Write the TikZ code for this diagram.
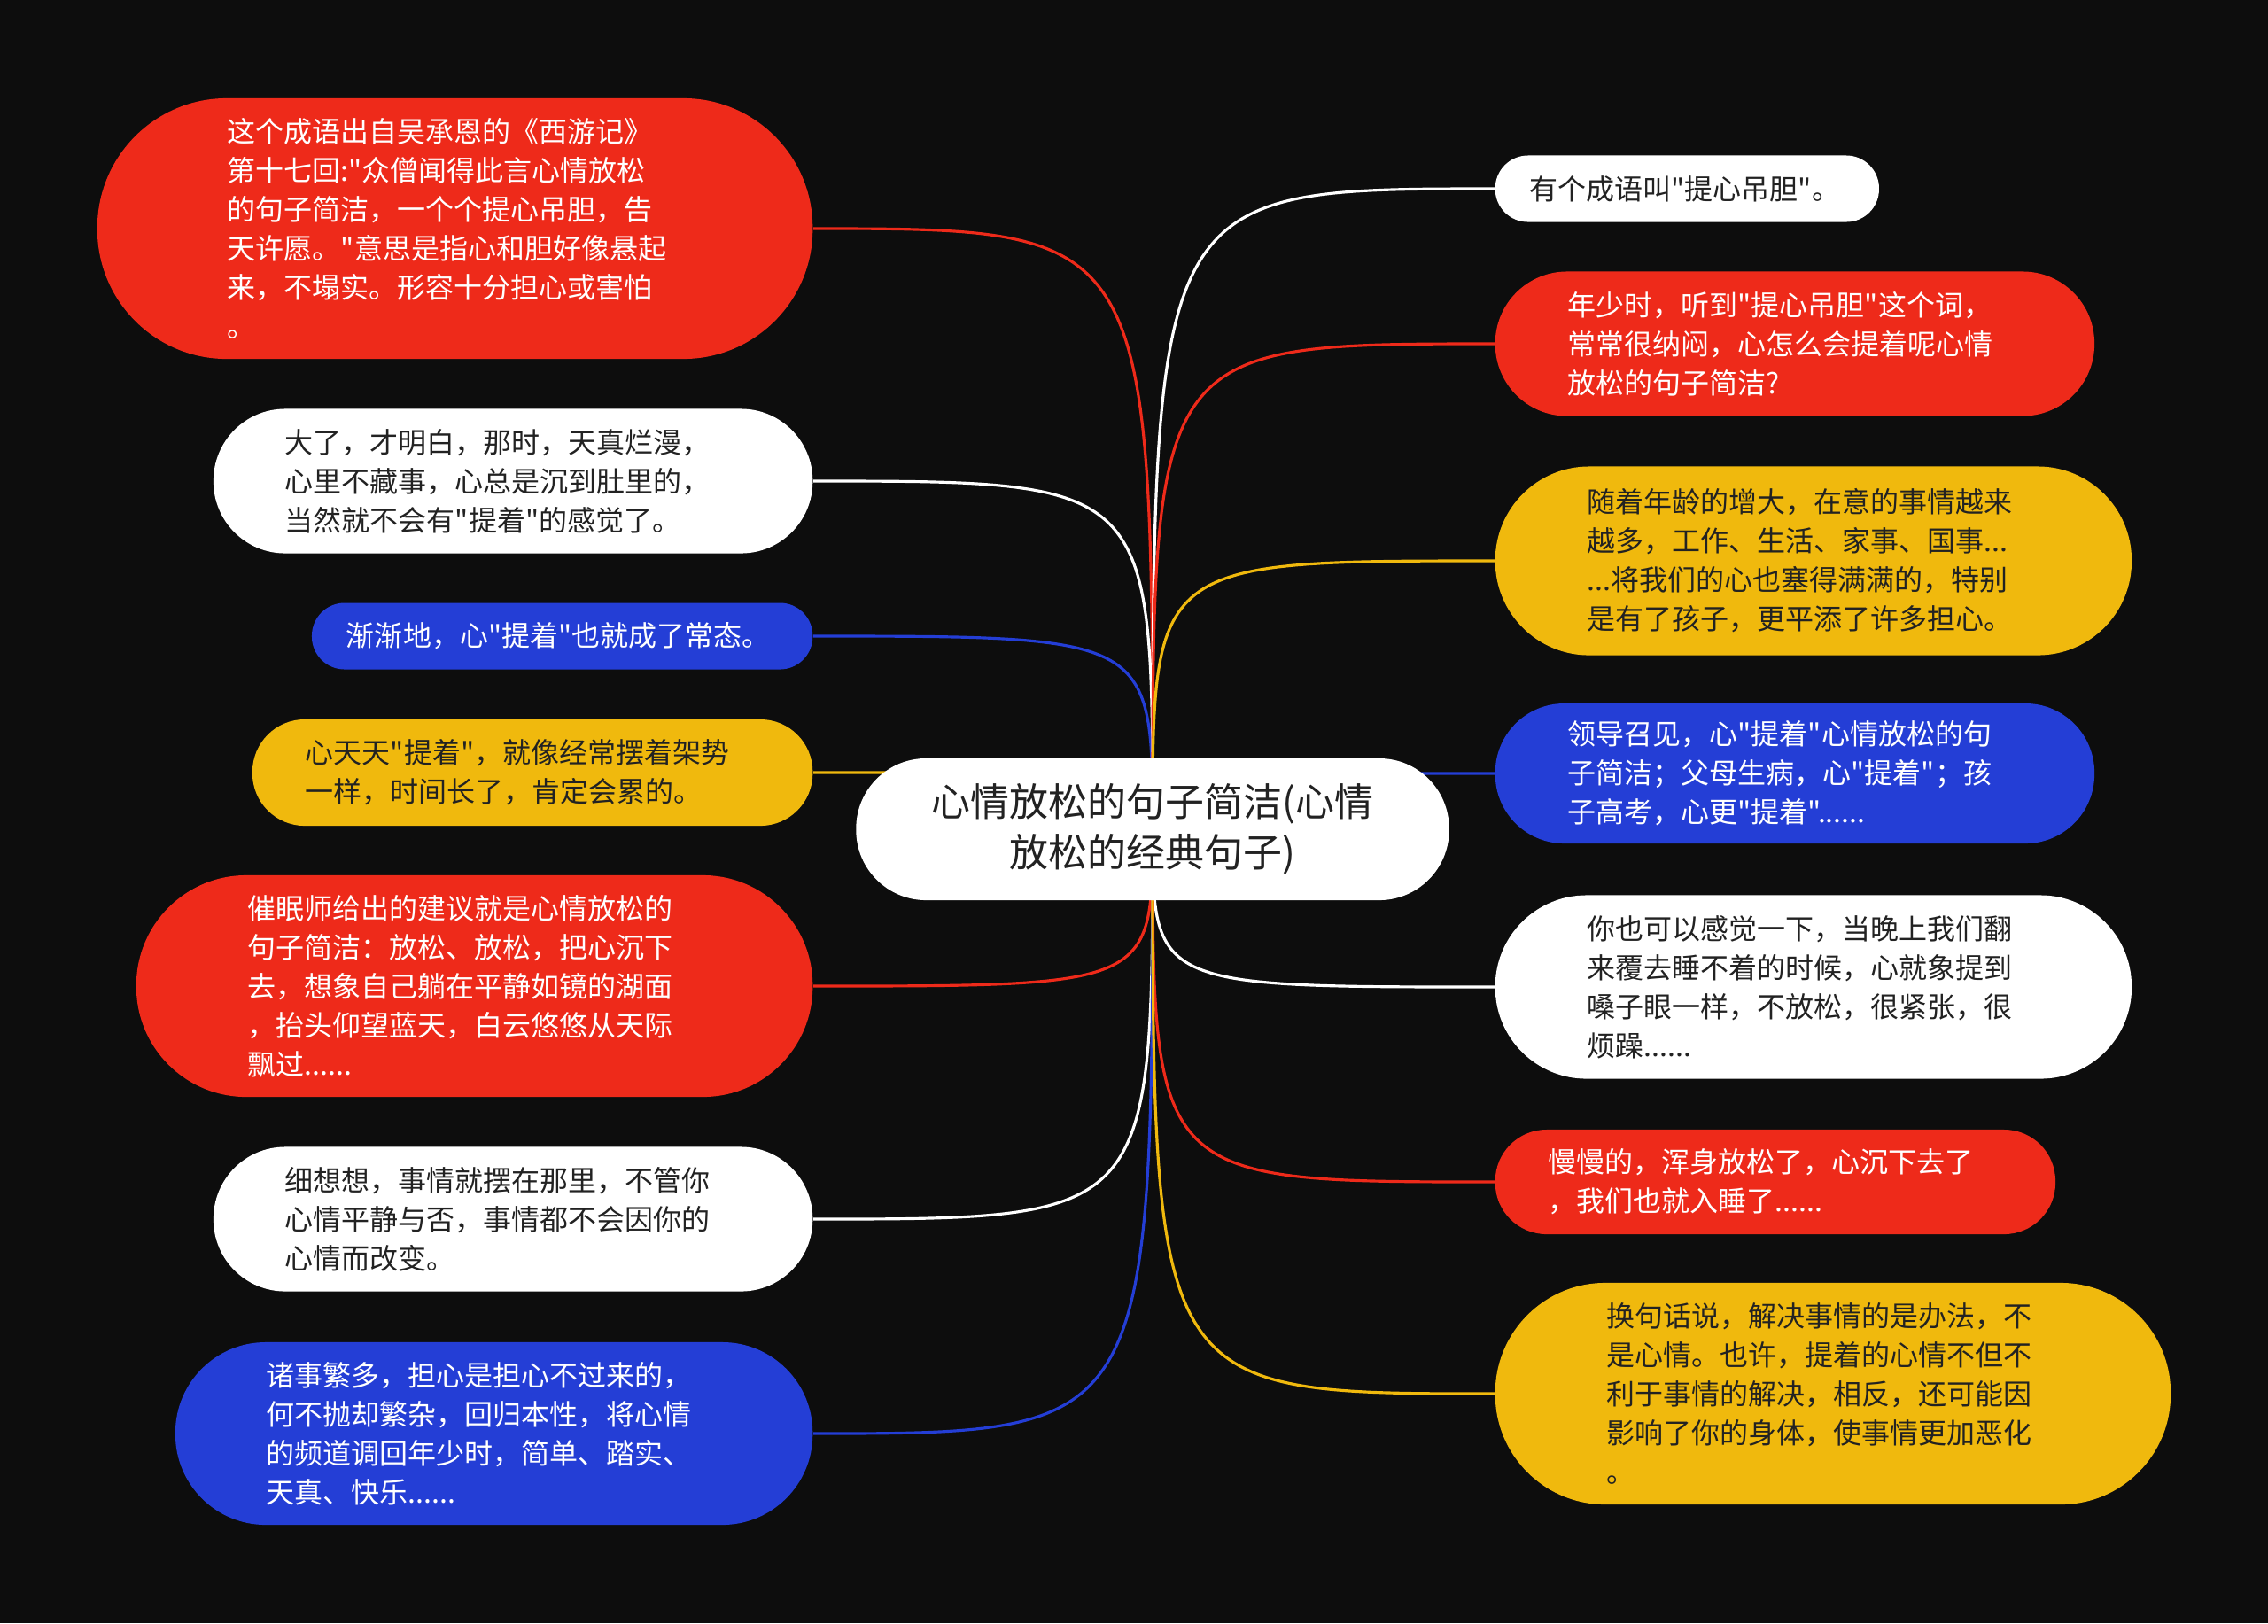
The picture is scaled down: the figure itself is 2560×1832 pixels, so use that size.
\documentclass[tikz,border=0pt]{standalone}
\usepackage{fontspec}
\newfontfamily\mmfont{Noto Sans CJK SC}
\usepackage{xcolor}

\definecolor{mmback}{RGB}{13,13,13}
\definecolor{mmred}{RGB}{238,42,26}
\definecolor{mmblue}{RGB}{36,62,214}
\definecolor{mmyellow}{RGB}{240,185,13}
\definecolor{mmink}{RGB}{34,34,34}

\pgfdeclarelayer{back}
\pgfdeclarelayer{links}
\pgfsetlayers{back,links,main}

\begin{document}
\begin{tikzpicture}[x=0.01cm, y=-0.01cm,
  leaf/.style={inner ysep=0pt, align=left, font=\mmfont\fontsize{9.1pt}{12.5pt}\selectfont},
  redleaf/.style={leaf, fill=mmred, text=white},
  blueleaf/.style={leaf, fill=mmblue, text=white},
  yellowleaf/.style={leaf, fill=mmyellow, text=mmink},
  whiteleaf/.style={leaf, fill=white, text=mmink},
  root/.style={fill=white, text=mmink, align=center, inner sep=0pt,
    minimum width=6.69cm, minimum height=1.6cm, rounded corners=0.79cm,
    font=\mmfont\fontsize{12.5pt}{16.2pt}\selectfont},
  link/.style={line width=0.9pt}]

  % background, also fixes the size
  \begin{pgfonlayer}{back}
    \fill[mmback] (0,0) rectangle (2560,1832);
  \end{pgfonlayer}

  \node[root] (root) at (1301,936) {心情放松的句子简洁(心情\\放松的经典句子)};

  % left side
  \node[redleaf, anchor=east, minimum width=8.07cm, minimum height=2.94cm, rounded corners=1.46cm, inner xsep=1.47cm, text width=5.13cm]
    (L1) at (918,258) {这个成语出自吴承恩的《西游记》\\第十七回:"众僧闻得此言心情放松\\的句子简洁，一个个提心吊胆，告\\天许愿。"意思是指心和胆好像悬起\\来，不塌实。形容十分担心或害怕\\。};
  \node[whiteleaf, anchor=east, minimum width=6.76cm, minimum height=1.63cm, rounded corners=0.81cm, inner xsep=0.81cm, text width=5.14cm]
    (L2) at (918,543) {大了，才明白，那时，天真烂漫，\\心里不藏事，心总是沉到肚里的，\\当然就不会有"提着"的感觉了。};
  \node[blueleaf, anchor=east, minimum width=5.65cm, minimum height=0.75cm, rounded corners=0.37cm, inner xsep=0.39cm, text width=4.87cm]
    (L3) at (918,718) {渐渐地，心"提着"也就成了常态。};
  \node[yellowleaf, anchor=east, minimum width=6.32cm, minimum height=1.2cm, rounded corners=0.59cm, inner xsep=0.6cm, text width=5.12cm]
    (L4) at (918,872) {心天天"提着"，就像经常摆着架势\\一样，时间长了，肯定会累的。};
  \node[redleaf, anchor=east, minimum width=7.63cm, minimum height=2.5cm, rounded corners=1.24cm, inner xsep=1.26cm, text width=5.11cm]
    (L5) at (918,1113) {催眠师给出的建议就是心情放松的\\句子简洁：放松、放松，把心沉下\\去，想象自己躺在平静如镜的湖面\\，抬头仰望蓝天，白云悠悠从天际\\飘过......};
  \node[whiteleaf, anchor=east, minimum width=6.76cm, minimum height=1.63cm, rounded corners=0.81cm, inner xsep=0.81cm, text width=5.14cm]
    (L6) at (918,1376) {细想想，事情就摆在那里，不管你\\心情平静与否，事情都不会因你的\\心情而改变。};
  \node[blueleaf, anchor=east, minimum width=7.19cm, minimum height=2.06cm, rounded corners=1.02cm, inner xsep=1.03cm, text width=5.13cm]
    (L7) at (918,1618) {诸事繁多，担心是担心不过来的，\\何不抛却繁杂，回归本性，将心情\\的频道调回年少时，简单、踏实、\\天真、快乐......};

  % right side
  \node[whiteleaf, anchor=west, minimum width=4.33cm, minimum height=0.75cm, rounded corners=0.37cm, inner xsep=0.39cm, text width=3.55cm]
    (R1) at (1687,213) {有个成语叫"提心吊胆"。};
  \node[redleaf, anchor=west, minimum width=6.76cm, minimum height=1.63cm, rounded corners=0.81cm, inner xsep=0.82cm, text width=5.12cm]
    (R2) at (1687,388) {年少时，听到"提心吊胆"这个词，\\常常很纳闷，心怎么会提着呢心情\\放松的句子简洁?};
  \node[yellowleaf, anchor=west, minimum width=7.18cm, minimum height=2.13cm, rounded corners=1.06cm, inner xsep=1.04cm, text width=5.1cm]
    (R3) at (1687,633) {随着年龄的增大，在意的事情越来\\越多，工作、生活、家事、国事...\\...将我们的心也塞得满满的，特别\\是有了孩子，更平添了许多担心。};
  \node[blueleaf, anchor=west, minimum width=6.76cm, minimum height=1.58cm, rounded corners=0.78cm, inner xsep=0.82cm, text width=5.12cm]
    (R4) at (1687,873) {领导召见，心"提着"心情放松的句\\子简洁；父母生病，心"提着"；孩\\子高考，心更"提着"......};
  \node[whiteleaf, anchor=west, minimum width=7.18cm, minimum height=2.07cm, rounded corners=1.03cm, inner xsep=1.04cm, text width=5.1cm]
    (R5) at (1687,1114) {你也可以感觉一下，当晚上我们翻\\来覆去睡不着的时候，心就象提到\\嗓子眼一样，不放松，很紧张，很\\烦躁......};
  \node[redleaf, anchor=west, minimum width=6.32cm, minimum height=1.18cm, rounded corners=0.58cm, inner xsep=0.6cm, text width=5.12cm]
    (R6) at (1687,1334) {慢慢的，浑身放松了，心沉下去了\\，我们也就入睡了......};
  \node[yellowleaf, anchor=west, minimum width=7.62cm, minimum height=2.5cm, rounded corners=1.24cm, inner xsep=1.26cm, text width=5.1cm]
    (R7) at (1687,1573) {换句话说，解决事情的是办法，不\\是心情。也许，提着的心情不但不\\利于事情的解决，相反，还可能因\\影响了你的身体，使事情更加恶化\\。};

  % connectors, behind the nodes
  \begin{pgfonlayer}{links}
    \draw[link, mmred] (root.center) .. controls (root.center |- L1.east) .. (L1.east);
    \draw[link, white] (root.center) .. controls (root.center |- L2.east) .. (L2.east);
    \draw[link, mmblue] (root.center) .. controls (root.center |- L3.east) .. (L3.east);
    \draw[link, mmyellow] (root.center) .. controls (root.center |- L4.east) .. (L4.east);
    \draw[link, mmred] (root.center) .. controls (root.center |- L5.east) .. (L5.east);
    \draw[link, white] (root.center) .. controls (root.center |- L6.east) .. (L6.east);
    \draw[link, mmblue] (root.center) .. controls (root.center |- L7.east) .. (L7.east);
    \draw[link, white] (root.center) .. controls (root.center |- R1.west) .. (R1.west);
    \draw[link, mmred] (root.center) .. controls (root.center |- R2.west) .. (R2.west);
    \draw[link, mmyellow] (root.center) .. controls (root.center |- R3.west) .. (R3.west);
    \draw[link, mmblue] (root.center) .. controls (root.center |- R4.west) .. (R4.west);
    \draw[link, white] (root.center) .. controls (root.center |- R5.west) .. (R5.west);
    \draw[link, mmred] (root.center) .. controls (root.center |- R6.west) .. (R6.west);
    \draw[link, mmyellow] (root.center) .. controls (root.center |- R7.west) .. (R7.west);
  \end{pgfonlayer}
\end{tikzpicture}
\end{document}
